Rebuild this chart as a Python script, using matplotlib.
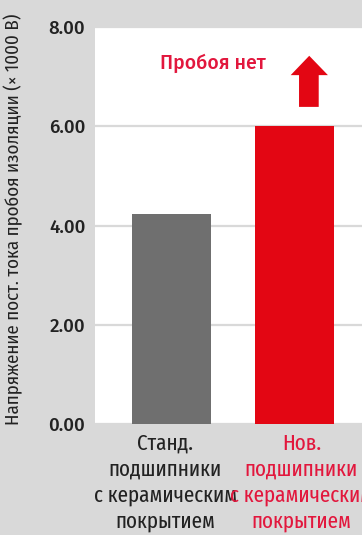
import matplotlib
matplotlib.use("Agg")
import matplotlib.pyplot as plt
from matplotlib.patches import Polygon
import matplotlib.transforms as mtransforms

categories = ["Станд.\nподшипники\nс керамическим\nпокрытием",
              "Нов.\nподшипники\nс керамическим\nпокрытием"]
values = [4.23, 6.0]
yticks = [0.0, 2.0, 4.0, 6.0, 8.0]
ytick_labels = ["0.00", "2.00", "4.00", "6.00", "8.00"]
ylabel = "Напряжение пост. тока пробоя изоляции (× 1000 В)"
note = "Пробоя нет"

MAIN = ["Fira Sans", "DejaVu Sans"]
COND = ["Fira Sans Condensed", "Fira Sans", "DejaVu Sans"]
XCOND = ["Fira Sans Extra Condensed", "Fira Sans Condensed", "DejaVu Sans"]

BG = "#d9d9d9"
RED = "#e30613"
RED_TXT = "#e2173d"
GRAY = "#6f6f6f"
DARK = "#222222"

fig = plt.figure(figsize=(3.62, 5.35), dpi=100, facecolor=BG)
W, H = 362, 535
ax = fig.add_axes([95 / W, 1 - 424 / H, (W - 95) / W, (424 - 27) / H])
ax.set_facecolor("white")

x = list(range(len(categories)))
ax.bar(x, values, width=0.642, color=[GRAY, RED], zorder=3)

ax.set_ylim(0, 8)
ax.set_xlim(-0.622, 1.549)
ax.set_yticks(yticks)
ax.set_yticklabels(ytick_labels, fontsize=13.5, color=DARK, family=MAIN,
                   fontweight="medium")
ax.tick_params(axis="y", length=0, pad=7)
ax.set_xticks([])
ax.yaxis.grid(True, color=BG, linewidth=1.6, zorder=1)
for s in ax.spines.values():
    s.set_visible(False)

ax.set_ylabel(ylabel, fontsize=13.6, color=DARK, family=COND)
ax.yaxis.set_label_coords(-0.27, 0.515)

# category labels below the axis
offsets = [-6, 7]
colors = [DARK, RED_TXT]
for xi, lab, dx, c in zip(x, categories, offsets, colors):
    tr = mtransforms.blended_transform_factory(ax.transData, ax.transAxes) + \
        mtransforms.ScaledTranslation(dx / 100, 0, fig.dpi_scale_trans)
    ax.text(xi, -0.022, lab, transform=tr, ha="center", va="top", fontsize=16.5,
            color=c, family=XCOND, linespacing=1.27, clip_on=False)

# annotation with upward arrow
ax.text(0.335, 7.28, note, ha="center", va="center", fontsize=14, color=RED_TXT,
        family=MAIN, fontweight="medium")
arrow = Polygon([(1.037, 6.39), (1.197, 6.39), (1.197, 7.03), (1.272, 7.03),
                 (1.12, 7.42), (0.969, 7.03), (1.037, 7.03)],
                closed=True, facecolor=RED, edgecolor="none", zorder=4)
ax.add_patch(arrow)

fig.savefig("out.png", dpi=100, facecolor=BG)
